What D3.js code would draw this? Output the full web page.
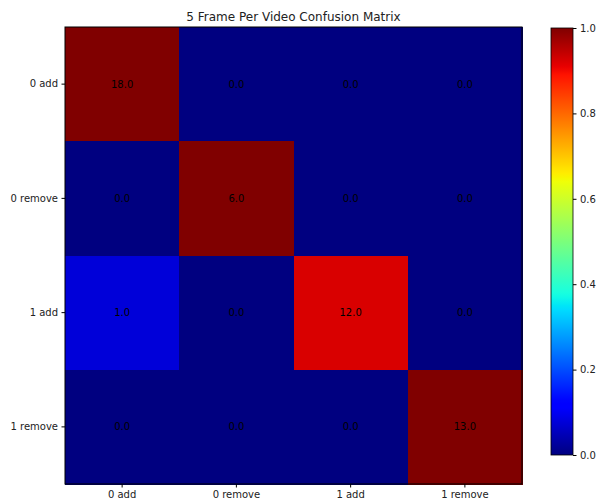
<!DOCTYPE html>
<html>
<head>
<meta charset="utf-8">
<script src="https://cdn.jsdelivr.net/npm/d3@7"></script>
<style>
  html, body { margin: 0; padding: 0; background: #fff; }
  svg { display: block; font-family: "DejaVu Sans", sans-serif; }
</style>
</head>
<body>
<svg id="chart" width="597" height="501"></svg>
<script>
// Class labels (rows = true, columns = predicted)
const classes = ["0 add", "0 remove", "1 add", "1 remove"];
// Raw counts per true class
const row0Add = [18, 0, 0, 0];
const row0Remove = [0, 6, 0, 0];
const row1Add = [1, 0, 12, 0];
const row1Remove = [0, 0, 0, 13];
const counts = [row0Add, row0Remove, row1Add, row1Remove];
const colorbarTicks = [0.0, 0.2, 0.4, 0.6, 0.8, 1.0];
const title = "5 Frame Per Video Confusion Matrix";

// Matplotlib "jet" colormap segment data
const jetSeg = {
  r: [[0, 0], [0.35, 0], [0.66, 1], [0.89, 1], [1, 0.5]],
  g: [[0, 0], [0.125, 0], [0.375, 1], [0.64, 1], [0.91, 0], [1, 0]],
  b: [[0, 0.5], [0.11, 1], [0.34, 1], [0.65, 0], [1, 0]]
};
function segInterp(seg, v) {
  v = Math.max(0, Math.min(1, v));
  for (let i = 1; i < seg.length; i++) {
    if (v <= seg[i][0]) {
      const [x0, y0] = seg[i - 1], [x1, y1] = seg[i];
      return y0 + (y1 - y0) * (v - x0) / (x1 - x0);
    }
  }
  return seg[seg.length - 1][1];
}
function jet(v) {
  return d3.rgb(
    Math.round(255 * segInterp(jetSeg.r, v)),
    Math.round(255 * segInterp(jetSeg.g, v)),
    Math.round(255 * segInterp(jetSeg.b, v))
  ).formatHex();
}

const svg = d3.select("#chart");
const margin = { left: 65, top: 27 };
const size = 457;

const x = d3.scaleBand().domain(classes).range([margin.left, margin.left + size]);
const y = d3.scaleBand().domain(classes).range([margin.top, margin.top + size]);
const color = d3.scaleSequential(jet).domain([0, 1]);

// Cells coloured by row-normalized share, labelled with raw count
const cells = [];
counts.forEach((row, i) => {
  const total = d3.sum(row);
  row.forEach((c, j) => cells.push({ r: classes[i], c: classes[j], count: c, norm: total ? c / total : 0 }));
});

const g = svg.append("g");
g.selectAll("rect.cell").data(cells).join("rect")
  .attr("class", "cell")
  .attr("x", d => x(d.c))
  .attr("y", d => y(d.r))
  .attr("width", x.bandwidth() + 0.6)
  .attr("height", y.bandwidth() + 0.6)
  .attr("shape-rendering", "crispEdges")
  .attr("fill", d => color(d.norm));

g.selectAll("text.val").data(cells).join("text")
  .attr("class", "val")
  .attr("x", d => x(d.c) + x.bandwidth() / 2)
  .attr("y", d => y(d.r) + y.bandwidth() / 2)
  .attr("text-anchor", "middle")
  .attr("dominant-baseline", "central")
  .attr("font-size", 10)
  .attr("fill", "#000")
  .text(d => d.count.toFixed(1));

// Frame
svg.append("rect")
  .attr("x", margin.left).attr("y", margin.top)
  .attr("width", size).attr("height", size)
  .attr("fill", "none").attr("stroke", "#000").attr("stroke-width", 1);

// Axes
const xAxis = d3.axisBottom(x).tickSize(3.5).tickPadding(3.5);
const yAxis = d3.axisLeft(y).tickSize(3.5).tickPadding(3.5);
const gx = svg.append("g").attr("transform", `translate(0,${margin.top + size})`).call(xAxis);
const gy = svg.append("g").attr("transform", `translate(${margin.left},0)`).call(yAxis);
[gx, gy].forEach(a => {
  a.select(".domain").remove();
  a.selectAll("text").attr("font-size", 10).attr("font-family", "DejaVu Sans").attr("fill", "#222");
  a.selectAll("line").attr("stroke", "#000");
});

// Title
svg.append("text")
  .attr("x", margin.left + size / 2)
  .attr("y", 21)
  .attr("text-anchor", "middle")
  .attr("font-size", 12)
  .attr("fill", "#222")
  .text(title);

// Colorbar
const cb = { x: 551, y: 28, w: 22, h: 427 };
const defs = svg.append("defs");
const grad = defs.append("linearGradient").attr("id", "jetGrad")
  .attr("x1", 0).attr("y1", 1).attr("x2", 0).attr("y2", 0);
d3.range(0, 1.0001, 0.01).forEach(t => {
  grad.append("stop").attr("offset", t).attr("stop-color", jet(t));
});
svg.append("rect")
  .attr("x", cb.x).attr("y", cb.y).attr("width", cb.w).attr("height", cb.h)
  .attr("fill", "url(#jetGrad)")
  .attr("stroke", "#000").attr("stroke-width", 0.8);

const cbScale = d3.scaleLinear().domain([0, 1]).range([cb.y + cb.h, cb.y]);
const cbAxis = d3.axisRight(cbScale).tickValues(colorbarTicks).tickFormat(d3.format(".1f")).tickSize(3.5).tickPadding(3.5);
const gc = svg.append("g").attr("transform", `translate(${cb.x + cb.w},0)`).call(cbAxis);
gc.select(".domain").remove();
gc.selectAll("text").attr("font-size", 10).attr("font-family", "DejaVu Sans").attr("fill", "#222");
gc.selectAll("line").attr("stroke", "#000");
</script>
</body>
</html>
